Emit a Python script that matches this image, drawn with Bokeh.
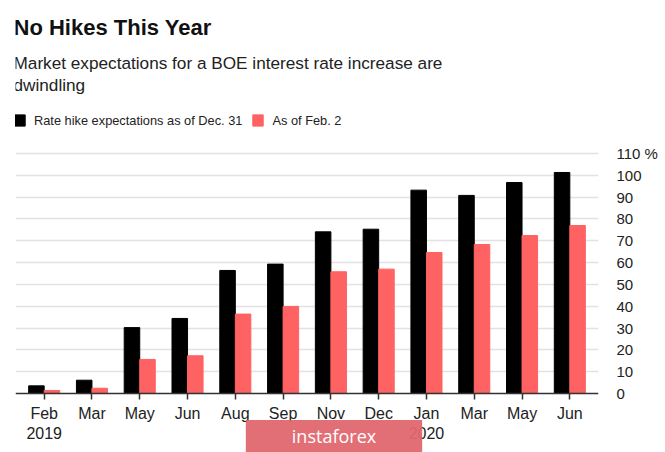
from bokeh.plotting import figure
from bokeh.models import (FixedTicker, LinearAxis, Range1d, Label, Legend, LegendItem,
                          ColumnDataSource)
from bokeh.embed import file_html
from bokeh.resources import INLINE
from bokeh.transform import dodge

months = ["Feb", "Mar", "May", "Jun", "Aug", "Sep", "Nov", "Dec", "Jan", "Mar", "May", "Jun"]
years = {0: "2019", 8: "2020"}
dec31 = [3.5, 6.1, 30.2, 34.4, 56.4, 59.3, 74.1, 75.3, 93.2, 90.8, 96.7, 101.3]
feb2 = [1.4, 2.4, 15.6, 17.3, 36.4, 39.9, 55.8, 57.0, 64.6, 68.3, 72.4, 77.0]
y_ticks = [0, 10, 20, 30, 40, 50, 60, 70, 80, 90, 100, 110]

FONT = "Liberation Sans"
BLACK = "#000000"
RED = "#ff6262"

W, H = 665, 452
idx = list(range(len(months)))
src = ColumnDataSource(dict(x=idx, dec31=dec31, feb2=feb2))

p = figure(width=W, height=H, output_backend="svg", toolbar_location=None,
           x_range=Range1d(-0.6, len(months) - 0.4), y_range=Range1d(-27.04, 180.125),
           min_border_left=15, min_border_right=67, min_border_top=0, min_border_bottom=0,
           outline_line_color=None, y_axis_location=None)
p.background_fill_color = "white"
p.border_fill_color = "white"

bw = 0.325
r1 = p.vbar(x=dodge("x", -bw / 2), top="dec31", width=bw, source=src, color=BLACK)
r2 = p.vbar(x=dodge("x", bw / 2), top="feb2", width=bw, source=src, color=RED)

# x axis (pinned at zero)
xa = p.xaxis[0]
xa.fixed_location = 0
xa.ticker = FixedTicker(ticks=idx)
xa.major_label_overrides = {i: (m + "\n" + years[i] if i in years else m) for i, m in enumerate(months)}
xa.axis_line_color = "#333333"
xa.axis_line_width = 1.5
xa.major_tick_line_color = "#333333"
xa.major_tick_line_width = 1.5
xa.major_tick_out = 6
xa.major_tick_in = 0
xa.minor_tick_line_color = None
xa.major_label_standoff = 5
xa.major_label_text_font = FONT
xa.major_label_text_font_size = "16px"
xa.major_label_text_color = "#222222"

p.xgrid.grid_line_color = None

# right y axis
ya = LinearAxis(ticker=FixedTicker(ticks=y_ticks))
ya.major_label_overrides = {110: "110 %"}
ya.axis_line_color = None
ya.major_tick_line_color = None
ya.minor_tick_line_color = None
ya.major_label_standoff = 12
ya.major_label_text_font = FONT
ya.major_label_text_font_size = "15px"
ya.major_label_text_color = "#222222"
p.add_layout(ya, "right")

p.ygrid.ticker = FixedTicker(ticks=y_ticks[1:])
p.ygrid.grid_line_color = "#e2e2e2"
p.ygrid.grid_line_width = 1.5

# titles (screen units relative to frame: x from frame left, y up from frame bottom)
p.add_layout(Label(x=-2, y=H - 27, x_units="screen", y_units="screen", text="No Hikes This Year",
                   text_font=FONT, text_font_style="bold", text_font_size="22px",
                   text_color="#111111", text_baseline="middle"))
p.add_layout(Label(x=-2, y=H - 62, x_units="screen", y_units="screen",
                   text="Market expectations for a BOE interest rate increase are",
                   text_font=FONT, text_font_size="17.2px", text_color="#222222",
                   text_baseline="middle"))
p.add_layout(Label(x=-2, y=H - 84, x_units="screen", y_units="screen", text="dwindling",
                   text_font=FONT, text_font_size="17.2px", text_color="#222222",
                   text_baseline="middle"))

legend = Legend(items=[LegendItem(label="Rate hike expectations as of Dec. 31", renderers=[r1]),
                       LegendItem(label="As of Feb. 2", renderers=[r2])],
                orientation="horizontal", location=(-2, H - 127.5), padding=0, margin=0,
                spacing=9, glyph_width=13, glyph_height=14, label_standoff=8,
                label_text_font=FONT, label_text_font_size="12.8px", label_text_color="#222222",
                border_line_color=None, background_fill_alpha=0)
p.add_layout(legend, "center")

# watermark
p.add_layout(Label(x=318.5, y=H - 435.5, x_units="screen", y_units="screen", text="instaforex",
                   text_font="Open Sans", text_font_size="18px", text_color="white",
                   text_align="center", text_baseline="middle",
                   background_fill_color="#e0676f", background_fill_alpha=0.95,
                   padding=(46, 46, 4, 4)))

open("out.html", "w").write(file_html(p, INLINE))
